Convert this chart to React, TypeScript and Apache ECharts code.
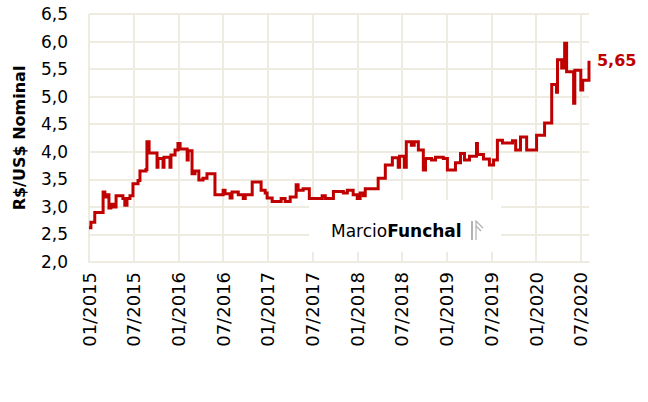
import React, { useEffect, useRef } from "react";
import * as echarts from "echarts";

// Exchange rate R$/US$ (nominal)
const dates: string[] = [
  "2015-01-01", "2015-01-09", "2015-01-25", "2015-02-26", "2015-03-05", "2015-03-13", "2015-03-22", "2015-03-30",
  "2015-04-11", "2015-04-20", "2015-05-18", "2015-05-26", "2015-06-04", "2015-06-16", "2015-06-28", "2015-07-19",
  "2015-07-27", "2015-08-21", "2015-08-25", "2015-09-03", "2015-10-05", "2015-10-09", "2015-10-30", "2015-11-03",
  "2015-11-27", "2015-12-01", "2015-12-18", "2015-12-30", "2016-01-08", "2016-02-06", "2016-02-10", "2016-02-25",
  "2016-03-08", "2016-03-24", "2016-04-10", "2016-04-26", "2016-05-29", "2016-07-01", "2016-07-09", "2016-07-30",
  "2016-08-07", "2016-09-02", "2016-09-22", "2016-09-30", "2016-10-29", "2016-12-04", "2016-12-21", "2016-12-29",
  "2017-01-19", "2017-02-23", "2017-03-11", "2017-04-01", "2017-04-25", "2017-05-03", "2017-05-24", "2017-06-18",
  "2017-08-10", "2017-08-23", "2017-09-25", "2017-11-05", "2017-11-21", "2017-12-15", "2018-01-01", "2018-01-13",
  "2018-01-26", "2018-02-03", "2018-03-26", "2018-04-24", "2018-05-23", "2018-06-16", "2018-06-21", "2018-07-11",
  "2018-07-19", "2018-08-09", "2018-08-21", "2018-09-07", "2018-09-27", "2018-10-06", "2018-10-31", "2018-11-16",
  "2018-12-18", "2019-01-04", "2019-02-06", "2019-02-25", "2019-03-13", "2019-04-03", "2019-05-01", "2019-05-05",
  "2019-05-30", "2019-06-23", "2019-07-10", "2019-07-26", "2019-08-16", "2019-09-26", "2019-10-09", "2019-10-29",
  "2019-11-23", "2020-01-03", "2020-02-05", "2020-03-04", "2020-03-24", "2020-03-28", "2020-04-14", "2020-04-26",
  "2020-05-04", "2020-06-02", "2020-06-07", "2020-07-01", "2020-07-09", "2020-08-04",
];

const rates: number[] = [
  2.62, 2.72, 2.9, 3.27, 3.18, 3.22, 2.98, 3.05,
  3.0, 3.2, 3.15, 3.03, 3.15, 3.2, 3.42, 3.48,
  3.65, 3.68, 4.18, 3.98, 3.72, 3.88, 3.72, 3.9,
  3.72, 3.94, 4.03, 4.15, 4.05, 3.85, 4.02, 3.6,
  3.65, 3.49, 3.52, 3.6, 3.22, 3.3, 3.24, 3.16,
  3.27, 3.22, 3.15, 3.22, 3.45, 3.3, 3.25, 3.16,
  3.1, 3.15, 3.1, 3.18, 3.4, 3.3, 3.33, 3.15,
  3.2, 3.15, 3.28, 3.25, 3.3, 3.22, 3.15, 3.25,
  3.2, 3.33, 3.52, 3.76, 3.89, 3.72, 3.92, 3.72,
  4.18, 4.12, 4.18, 4.03, 3.67, 3.88, 3.85, 3.9,
  3.88, 3.67, 3.8, 3.97, 3.85, 3.92, 4.15, 3.95,
  3.87, 3.76, 3.85, 4.21, 4.16, 4.2, 4.03, 4.27,
  4.03, 4.3, 4.52, 5.22, 5.08, 5.67, 5.52, 5.97,
  5.45, 4.88, 5.48, 5.12, 5.3, 5.65,
];

const xTickLabels: string[] = [
  "01/2015", "07/2015", "01/2016", "07/2016", "01/2017", "07/2017",
  "01/2018", "07/2018", "01/2019", "07/2019", "01/2020", "07/2020",
];

const yMin = 2.0;
const yMax = 6.5;
const yStep = 0.5;

const FONT = "DejaVu Sans";
const GRID = "#EEEBE1";
const RED = "#C00000";

function monthIndex(d: string): number {
  const [y, m, day] = d.split("-").map(Number);
  const dim = new Date(y, m, 0).getDate();
  return (y - 2015) * 12 + (m - 1) + (day - 1) / dim;
}

export default function App() {
  const ref = useRef<HTMLDivElement>(null);

  useEffect(() => {
    if (!ref.current) return;
    const chart = echarts.init(ref.current, undefined, { renderer: "svg" });
    const data = dates.map((d, i) => [monthIndex(d), rates[i]]);
    const xMax = 67.1;
    const splitColors = xTickLabels.map(() => GRID).concat(["rgba(0,0,0,0)"]);

    chart.setOption({
      animation: false,
      backgroundColor: "#ffffff",
      grid: { left: 89, right: 59, top: 14, bottom: 140, containLabel: false },
      xAxis: {
        type: "value",
        min: 0,
        max: xMax,
        interval: 6,
        axisLine: { show: true, lineStyle: { color: GRID, width: 2 } },
        axisTick: { show: false },
        splitLine: { show: true, lineStyle: { color: splitColors, width: 2 } },
        axisLabel: {
          rotate: 90,
          margin: 10,
          color: "#000",
          fontFamily: FONT,
          fontSize: 18,
          showMaxLabel: false,
          formatter: (v: number) => {
            const i = Math.round(v / 6);
            if (Math.abs(v - i * 6) > 1e-6) return "";
            return xTickLabels[i] ?? "";
          },
        },
      },
      yAxis: {
        type: "value",
        min: yMin,
        max: yMax,
        interval: yStep,
        name: "R$/US$ Nominal",
        nameLocation: "middle",
        nameGap: 62,
        nameRotate: 90,
        nameTextStyle: { color: "#000", fontFamily: FONT, fontSize: 16, fontWeight: "bold" },
        axisLine: { show: false },
        axisTick: { show: false },
        splitLine: { show: true, lineStyle: { color: GRID, width: 2 } },
        axisLabel: {
          margin: 21,
          color: "#000",
          fontFamily: FONT,
          fontSize: 17,
          formatter: (v: number) => v.toFixed(1).replace(".", ","),
        },
      },
      graphic: [
        {
          type: "rect",
          z: 1,
          shape: { x: 309, y: 200, width: 192, height: 52 },
          style: { fill: "#ffffff" },
        },
        {
          type: "text",
          z: 2,
          x: 331,
          y: 231,
          style: {
            text: "{a|Marcio}{b|Funchal}",
            verticalAlign: "middle",
            rich: {
              a: { fontFamily: FONT, fontSize: 17, color: "#5a5a5a" },
              b: { fontFamily: FONT, fontSize: 17, fontWeight: "bold", color: "#484848" },
            },
          },
        },
        {
          type: "line",
          z: 2,
          shape: { x1: 472, y1: 221, x2: 472, y2: 240 },
          style: { stroke: "#9a9a9a", lineWidth: 1.5 },
        },
        {
          type: "polyline",
          z: 2,
          shape: { points: [[476, 240], [476, 221], [483, 228]] },
          style: { stroke: "#b0b0b0", lineWidth: 1.2, fill: "none" },
        },
        {
          type: "line",
          z: 2,
          shape: { x1: 476, y1: 226, x2: 481, y2: 231 },
          style: { stroke: "#b0b0b0", lineWidth: 1.2 },
        },
      ],
      series: [
        {
          type: "line",
          step: "end",
          data,
          symbol: "none",
          z: 3,
          lineStyle: { color: RED, width: 3, join: "miter", cap: "butt" },
          endLabel: {
            show: true,
            distance: 8,
            color: RED,
            fontFamily: FONT,
            fontSize: 16,
            fontWeight: "bold",
            formatter: (p: any) => p.value[1].toFixed(2).replace(".", ","),
          },
        },
      ],
    });

    return () => chart.dispose();
  }, []);

  return (
    <div
      ref={ref}
      style={{ position: "absolute", left: 0, top: 0, width: 648, height: 402, background: "#fff" }}
    />
  );
}
